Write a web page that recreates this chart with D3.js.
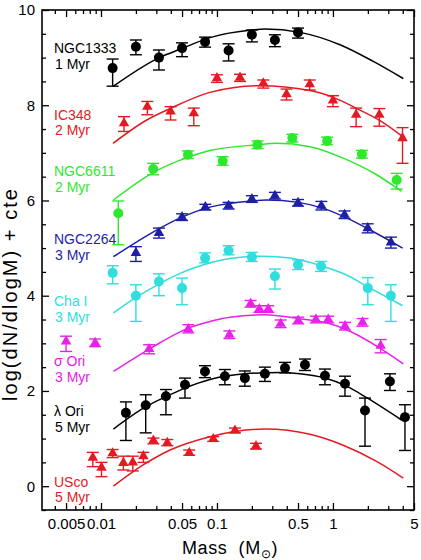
<!DOCTYPE html>
<meta charset="utf-8">
<style>
  body { margin: 0; background: #fff; }
  text { font-family: "Liberation Sans", Arial, sans-serif; }
</style>
<body>
<script src="https://d3js.org/d3.v7.min.js"></script>
<script>

// cluster names and ages (label lines)
var clusterNames = ["NGC1333", "IC348", "NGC6611", "NGC2264", "Cha I", "\u03c3 Ori", "\u03bb Ori", "USco"];
var clusterAges  = ["1 Myr", "2 Myr", "2 Myr", "3 Myr", "3 Myr", "3 Myr", "5 Myr", "5 Myr"];

// points: [mass, value, error low, error high]
var ngc1333Pts = [[0.0126, 8.78, 8.40, 8.97], [0.02, 9.23, 9.06, 9.37], [0.0316, 9.00, 8.74, 9.16],
  [0.05, 9.20, 9.02, 9.31], [0.079, 9.33, 9.22, 9.43], [0.126, 9.15, 8.93, 9.29],
  [0.2, 9.48, 9.33, 9.58], [0.316, 9.37, 9.23, 9.48], [0.5, 9.53, 9.41, 9.62]];
var ic348Pts = [[0.0158, 7.62, 7.45, 7.76], [0.0251, 7.97, 7.80, 8.08], [0.0398, 7.87, 7.69, 7.97],
  [0.0631, 7.83, 7.57, 7.94], [0.1, 8.57, 8.48, 8.64], [0.158, 8.58, 8.50, 8.65],
  [0.251, 8.46, 8.36, 8.53], [0.398, 8.23, 8.11, 8.34], [0.631, 8.44, 8.32, 8.53],
  [1.0, 8.10, 7.97, 8.20], [1.585, 7.80, 7.55, 7.94], [2.512, 7.80, 7.56, 7.93],
  [3.981, 7.31, 6.78, 7.53]];
var ngc6611Pts = [[0.0141, 5.73, 5.07, 5.99], [0.0282, 6.66, 6.54, 6.78], [0.0562, 6.96, 6.88, 7.04],
  [0.112, 6.83, 6.74, 6.92], [0.224, 7.17, 7.09, 7.25], [0.447, 7.31, 7.23, 7.39],
  [0.891, 7.25, 7.17, 7.33], [1.778, 6.97, 6.89, 7.05], [3.548, 6.43, 6.24, 6.57]];
var ngc2264Pts = [[0.02, 4.90, 4.72, 5.03], [0.0316, 5.32, 5.21, 5.42], [0.05, 5.65, 5.58, 5.72],
  [0.0794, 5.86, 5.80, 5.92], [0.126, 5.89, 5.82, 5.96], [0.2, 6.03, 5.96, 6.10],
  [0.316, 6.10, 6.03, 6.17], [0.5, 5.95, 5.88, 6.02], [0.794, 5.89, 5.80, 5.98],
  [1.259, 5.70, 5.62, 5.78], [1.995, 5.42, 5.32, 5.51], [3.162, 5.12, 5.00, 5.23]];
var chaPts = [[0.0126, 4.48, 4.25, 4.63], [0.02, 4.00, 3.46, 4.23], [0.0316, 4.30, 4.00, 4.46],
  [0.05, 4.16, 3.81, 4.37], [0.079, 4.79, 4.69, 4.90], [0.126, 4.95, 4.86, 5.05],
  [0.2, 4.81, 4.72, 4.91], [0.316, 4.41, 4.14, 4.56], [0.5, 4.65, 4.55, 4.75],
  [0.79, 4.62, 4.51, 4.72], [2.0, 4.16, 3.81, 4.38], [3.16, 4.00, 3.46, 4.23]];
var sigOriPts = [[0.005, 3.04, 2.83, 3.15], [0.0089, 3.01, 2.93, 3.09], [0.026, 2.88, 2.78, 2.97],
  [0.0566, 3.30, 3.22, 3.39], [0.128, 3.18, 3.10, 3.26], [0.195, 3.83, 3.76, 3.90],
  [0.232, 3.72, 3.65, 3.79], [0.277, 3.72, 3.65, 3.79], [0.354, 3.41, 3.33, 3.49],
  [0.502, 3.48, 3.41, 3.55], [0.713, 3.50, 3.43, 3.57], [0.911, 3.50, 3.43, 3.57],
  [1.27, 3.36, 3.28, 3.44], [1.80, 3.44, 3.36, 3.52], [2.58, 2.95, 2.80, 3.08]];
var lamOriPts = [[0.0164, 1.54, 0.96, 1.77], [0.0243, 1.70, 1.12, 1.92], [0.0363, 1.89, 1.50, 2.03],
  [0.053, 2.13, 1.85, 2.27], [0.0788, 2.41, 2.28, 2.53], [0.117, 2.31, 2.13, 2.45],
  [0.174, 2.27, 2.10, 2.42], [0.259, 2.36, 2.20, 2.50], [0.386, 2.48, 2.38, 2.60],
  [0.574, 2.55, 2.43, 2.67], [0.853, 2.32, 2.13, 2.46], [1.27, 2.15, 1.89, 2.31],
  [1.89, 1.59, 0.84, 1.85], [3.10, 2.20, 2.01, 2.36], [4.18, 1.45, 0.75, 1.71]];
var uscoPts = [[0.0085, 0.60, 0.41, 0.71], [0.0101, 0.39, 0.20, 0.50], [0.0126, 0.69, 0.60, 0.77],
  [0.0156, 0.49, 0.34, 0.63], [0.0188, 0.50, 0.32, 0.63], [0.0232, 0.63, 0.50, 0.71],
  [0.0283, 0.96, 0.89, 1.01], [0.0373, 0.91, 0.85, 0.98], [0.0577, 0.70, 0.65, 0.76],
  [0.0929, 0.99, 0.94, 1.04], [0.143, 1.17, 1.12, 1.22], [0.217, 0.84, 0.78, 0.90]];

// fitted curves: [mass, value]
var ngc1333Fit = [[0.0128, 8.40], [0.0318, 9.00], [0.0497, 9.19], [0.087, 9.42], [0.199, 9.58],
  [0.26, 9.60], [0.52, 9.53], [1.15, 9.27], [2.23, 8.92], [4.04, 8.56]];
var ic348Fit = [[0.0127, 7.20], [0.0248, 7.69], [0.0394, 7.93], [0.087, 8.27], [0.235, 8.41],
  [0.634, 8.31], [1.02, 8.16], [1.61, 7.93], [2.57, 7.67], [3.94, 7.35]];
var ngc6611Fit = [[0.0128, 6.01], [0.0279, 6.58], [0.0566, 6.91], [0.087, 7.05], [0.227, 7.17],
  [0.327, 7.20], [0.634, 7.13], [1.227, 6.89], [2.38, 6.54], [3.91, 6.19]];
var ngc2264Fit = [[0.0128, 4.82], [0.0318, 5.41], [0.0497, 5.65], [0.087, 5.86], [0.199, 5.99],
  [0.268, 6.01], [0.502, 5.96], [0.815, 5.84], [1.269, 5.65], [2.056, 5.39], [3.99, 5.00]];
var chaFit = [[0.0128, 3.64], [0.0196, 3.95], [0.0318, 4.25], [0.048, 4.47], [0.079, 4.66],
  [0.129, 4.78], [0.249, 4.83], [0.426, 4.79], [0.815, 4.62], [1.269, 4.45], [2.056, 4.17], [3.99, 3.79]];
var sigOriFit = [[0.0128, 2.41], [0.0261, 2.88], [0.0566, 3.32], [0.087, 3.46], [0.129, 3.55],
  [0.259, 3.60], [0.502, 3.52], [0.911, 3.42], [1.269, 3.30], [2.577, 2.89], [4.04, 2.57]];
var lamOriFit = [[0.0128, 1.20], [0.0248, 1.68], [0.0363, 1.88], [0.053, 2.06], [0.087, 2.24],
  [0.174, 2.36], [0.349, 2.39], [0.52, 2.36], [0.853, 2.27], [1.312, 2.10], [1.952, 1.86], [3.91, 1.39]];
var uscoFit = [[0.0128, 0.00], [0.0229, 0.44], [0.0394, 0.76], [0.087, 1.04], [0.143, 1.15],
  [0.259, 1.20], [0.634, 1.09], [1.227, 0.86], [2.38, 0.52], [4.04, 0.17]];

// tick labels
var xTickValues = [0.005, 0.01, 0.05, 0.1, 0.5, 1, 5];
var xTickLabels = ["0.005", "0.01", "0.05", "0.1", "0.5", "1", "5"];
var yTickValues = [0, 2, 4, 6, 8, 10];

// table of series for drawing
var colors = ["#000000", "#e41a22", "#2ee82e", "#1e1ea8", "#30dede", "#e820e8", "#000000", "#e41a22"];
var shapes = ["circle", "tri", "circle", "tri", "circle", "tri", "circle", "tri"];
var allPts = [ngc1333Pts, ic348Pts, ngc6611Pts, ngc2264Pts, chaPts, sigOriPts, lamOriPts, uscoPts];
var allFits = [ngc1333Fit, ic348Fit, ngc6611Fit, ngc2264Fit, chaFit, sigOriFit, lamOriFit, uscoFit];
// label baselines, in y-axis units
var labelAt = [9.10, 7.70, 6.51, 5.09, 3.78, 2.52, 1.47, -0.01];

var series = clusterNames.map(function(n, i) {
  return {name: n, age: clusterAges[i], color: colors[i], shape: shapes[i],
          pts: allPts[i], fit: allFits[i], labelY: labelAt[i]};
});

var W = 421, H = 560;
var plotL = 42, plotR = 414, plotT = 10, plotB = 510;

var svg = d3.select("body").append("svg")
    .attr("width", W)
    .attr("height", H);

var x = d3.scaleLog().domain([0.0031, 5]).range([plotL, plotR]);
var y = d3.scaleLinear().domain([-0.5, 10]).range([plotB, plotT]);

// axes: minor ticks, then labelled ones
var minorX = x.ticks().filter(function(t) { return xTickValues.indexOf(t) < 0; });
var minorY = d3.range(-0.5, 10.01, 0.5).filter(function(t) { return yTickValues.indexOf(t) < 0; });

function styleAxis(g) {
  g.select(".domain").remove();
  g.selectAll("line").attr("stroke", "#000").attr("stroke-width", 1.3);
  g.selectAll("text").attr("font-size", "15px").attr("fill", "#000");
}

svg.append("g").attr("transform", "translate(0," + plotB + ")")
    .call(d3.axisBottom(x).tickValues(minorX).tickSize(-4).tickFormat(""))
    .call(styleAxis);
svg.append("g").attr("transform", "translate(0," + plotB + ")")
    .call(d3.axisBottom(x).tickValues(xTickValues).tickSize(-7).tickPadding(8.5)
      .tickFormat(function(d, i) { return xTickLabels[i]; }))
    .call(styleAxis);
svg.append("g").attr("transform", "translate(0," + plotT + ")")
    .call(d3.axisTop(x).tickValues(minorX).tickSize(-4).tickFormat(""))
    .call(styleAxis);
svg.append("g").attr("transform", "translate(0," + plotT + ")")
    .call(d3.axisTop(x).tickValues(xTickValues).tickSize(-7).tickFormat(""))
    .call(styleAxis);

svg.append("g").attr("transform", "translate(" + plotL + ",0)")
    .call(d3.axisLeft(y).tickValues(minorY).tickSize(-4).tickFormat(""))
    .call(styleAxis);
svg.append("g").attr("transform", "translate(" + plotL + ",0)")
    .call(d3.axisLeft(y).tickValues(yTickValues).tickSize(-7).tickPadding(7).tickFormat(d3.format("d")))
    .call(styleAxis);
svg.append("g").attr("transform", "translate(" + plotR + ",0)")
    .call(d3.axisRight(y).tickValues(minorY).tickSize(-4).tickFormat(""))
    .call(styleAxis);
svg.append("g").attr("transform", "translate(" + plotR + ",0)")
    .call(d3.axisRight(y).tickValues(yTickValues).tickSize(-7).tickFormat(""))
    .call(styleAxis);

// frame
svg.append("rect")
    .attr("x", plotL).attr("y", plotT)
    .attr("width", plotR - plotL).attr("height", plotB - plotT)
    .attr("fill", "none").attr("stroke", "#000").attr("stroke-width", 1.6);

// fitted curves
var line = d3.line()
    .x(function(d) { return x(d[0]); })
    .y(function(d) { return y(d[1]); })
    .curve(d3.curveMonotoneX);

svg.selectAll(".fit")
    .data(series)
  .enter().append("path")
    .attr("class", "fit")
    .attr("d", function(d) { return line(d.fit); })
    .attr("fill", "none")
    .attr("stroke", function(d) { return d.color; })
    .attr("stroke-width", 1.5);

// error bars and markers
var cap = 6;
var tri = d3.symbol().type(d3.symbolTriangle).size(48);

series.forEach(function(s) {
  var g = svg.append("g").attr("stroke", s.color).attr("fill", s.color);

  var eb = g.selectAll(".eb").data(s.pts).enter().append("g").attr("class", "eb")
      .attr("stroke-width", 1.4);
  eb.append("line")
      .attr("x1", function(d) { return x(d[0]); }).attr("x2", function(d) { return x(d[0]); })
      .attr("y1", function(d) { return y(d[2]); }).attr("y2", function(d) { return y(d[3]); });
  eb.append("line")
      .attr("x1", function(d) { return x(d[0]) - cap; }).attr("x2", function(d) { return x(d[0]) + cap; })
      .attr("y1", function(d) { return y(d[2]); }).attr("y2", function(d) { return y(d[2]); });
  eb.append("line")
      .attr("x1", function(d) { return x(d[0]) - cap; }).attr("x2", function(d) { return x(d[0]) + cap; })
      .attr("y1", function(d) { return y(d[3]); }).attr("y2", function(d) { return y(d[3]); });

  if (s.shape == "circle") {
    g.selectAll(".mk").data(s.pts).enter().append("circle")
        .attr("cx", function(d) { return x(d[0]); })
        .attr("cy", function(d) { return y(d[1]); })
        .attr("r", 5)
        .attr("stroke", "none");
  } else {
    g.selectAll(".mk").data(s.pts).enter().append("path")
        .attr("d", tri)
        .attr("transform", function(d) { return "translate(" + x(d[0]) + "," + y(d[1]) + ")"; })
        .attr("stroke", "none");
  }

  // cluster label, two lines
  var t = svg.append("text")
      .attr("x", 54)
      .attr("y", y(s.labelY))
      .attr("font-size", "14px")
      .attr("fill", s.color);
  t.append("tspan").attr("x", 54).text(s.name);
  t.append("tspan").attr("x", 55).attr("dy", 15.7).text(s.age);
});

// axis titles
svg.append("text")
    .attr("transform", "translate(17,295) rotate(-90)")
    .attr("text-anchor", "middle")
    .attr("font-size", "20px")
    .attr("textLength", 212)
    .attr("lengthAdjust", "spacing")
    .text("log(dN/dlogM) + cte");

var xl = svg.append("text")
    .attr("x", 182)
    .attr("y", 554)
    .attr("font-size", "18px")
    .attr("letter-spacing", "0.6px");
xl.append("tspan").text("Mass\u00a0 (M");
xl.append("tspan").attr("dy", 4).attr("font-size", "12px").text("\u2299");
xl.append("tspan").attr("dy", -4).text(")");

</script>
</body>
